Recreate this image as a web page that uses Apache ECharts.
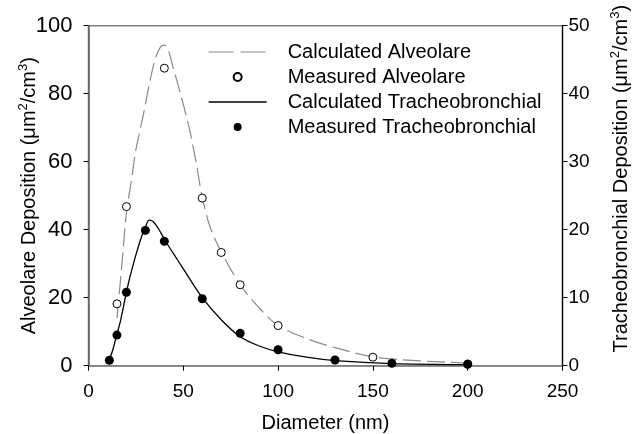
<!DOCTYPE html>
<html>
<head>
<meta charset="utf-8">
<script src="https://cdn.jsdelivr.net/npm/echarts@6/dist/echarts.min.js"></script>
<style>
html,body{margin:0;padding:0;background:#fff;}
#chart{width:638px;height:434px;}
</style>
</head>
<body>
<div id="chart"></div>
<script>
// Calculated alveolar deposition (left axis, µm²/cm³)
const calcAlvX = [15, 17.5, 20, 22.5, 25, 29, 32.5, 35.5, 38, 40, 42, 44, 49, 53.5, 57, 60, 64, 70, 80, 90, 100, 115, 130, 150, 175, 200];
const calcAlvY = [14, 29, 45, 54, 63.5, 74, 84, 90.8, 93.8, 94.3, 93, 89, 79, 69, 59, 49.5, 41, 33.5, 23.8, 17, 11.8, 8, 5.3, 2.6, 1.4, 0.8];
// Measured alveolar deposition (left axis)
const measAlvX = [15, 20, 40, 60, 70, 80, 100, 150, 200];
const measAlvY = [18.2, 46.8, 87.5, 49.3, 33.3, 23.8, 11.8, 2.5, 0.5];
// Calculated tracheobronchial deposition (right axis)
const calcTbX = [11, 13, 15, 17, 20, 22, 25, 28, 30, 32, 34, 37, 40, 45, 50, 60, 70, 80, 90, 100, 115, 130, 160, 200];
const calcTbY = [0.85, 2.5, 4.65, 6.75, 10.8, 13.2, 16.3, 19.0, 20.4, 21.4, 21.2, 20.1, 18.6, 16.4, 14.25, 10, 6.75, 4.25, 2.9, 2.05, 1.25, 0.75, 0.3, 0.15];
// Measured tracheobronchial deposition (right axis)
const measTbX = [11, 15, 20, 30, 40, 60, 80, 100, 130, 160, 200];
const measTbY = [0.8, 4.5, 10.8, 19.9, 18.3, 9.85, 4.76, 2.35, 0.84, 0.35, 0.2];

const seriesNames = ['Calculated Alveolare', 'Measured Alveolare', 'Calculated Tracheobronchial', 'Measured Tracheobronchial'];
const xTicks = {min: 0, max: 250, interval: 50};
const yLeftTicks = {min: 0, max: 100, interval: 20};
const yRightTicks = {min: 0, max: 50, interval: 10};

const zip = (xs, ys) => xs.map((x, i) => [x, ys[i]]);
const FONT = 'Liberation Sans, Arial, sans-serif';

const chart = echarts.init(document.getElementById('chart'), null, {renderer: 'canvas'});
chart.setOption({
  animation: false,
  backgroundColor: '#fff',
  textStyle: {fontFamily: FONT, color: '#000'},
  grid: {left: 88.5, right: 75.5, top: 25.7, bottom: 68.3, containLabel: false, outerBoundsMode: 'none',
         show: true, borderColor: '#808080', borderWidth: 1.5, backgroundColor: 'transparent'},
  legend: {
    orient: 'vertical', left: 203, top: 37, itemWidth: 58, itemHeight: 8, itemGap: 5,
    data: [
      {name: seriesNames[0], itemStyle: {opacity: 0}, lineStyle: {type: [25, 7], width: 1.2, color: '#8a8a8a'}},
      {name: seriesNames[1]},
      {name: seriesNames[2], itemStyle: {opacity: 0}, lineStyle: {width: 1.3, color: '#000'}},
      {name: seriesNames[3]}
    ],
    textStyle: {fontFamily: FONT, fontSize: 20, color: '#000', lineHeight: 20, padding: [0, 0, 0, 16]}
  },
  xAxis: {
    type: 'value', min: xTicks.min, max: xTicks.max, interval: xTicks.interval,
    name: 'Diameter (nm)', nameLocation: 'middle', nameGap: 48, nameMoveOverlap: false,
    nameTextStyle: {fontFamily: FONT, fontSize: 20, color: '#000'},
    axisLine: {show: true, onZero: false, lineStyle: {color: '#808080', width: 1.5}},
    axisTick: {show: true, length: 5, lineStyle: {color: '#000', width: 1}},
    axisLabel: {fontFamily: FONT, fontSize: 19, color: '#000', margin: 17},
    splitLine: {show: false}
  },
  yAxis: [
    {
      type: 'value', position: 'left', min: yLeftTicks.min, max: yLeftTicks.max, interval: yLeftTicks.interval,
      name: '{t|Alveolare Deposition (μm}{s|2}{t|/cm}{s|3}{t|)}', nameLocation: 'middle', nameGap: 46, nameRotate: 90,
      nameMoveOverlap: false,
      nameTextStyle: {fontFamily: FONT, color: '#000', rich: {
        t: {fontFamily: FONT, fontSize: 20, lineHeight: 26, color: '#000'},
        s: {fontFamily: FONT, fontSize: 13, lineHeight: 13, verticalAlign: 'top', color: '#000'}
      }},
      axisLine: {show: true, onZero: false, lineStyle: {color: '#606060', width: 1.5}},
      axisTick: {show: true, length: 5, lineStyle: {color: '#000', width: 1}},
      axisLabel: {fontFamily: FONT, fontSize: 22, color: '#000', margin: 16},
      splitLine: {show: false}
    },
    {
      type: 'value', position: 'right', min: yRightTicks.min, max: yRightTicks.max, interval: yRightTicks.interval,
      name: '{t|Tracheobronchial Deposition (μm}{s|2}{t|/cm}{s|3}{t|)}', nameLocation: 'middle', nameGap: 46, nameRotate: 90,
      nameMoveOverlap: false,
      nameTextStyle: {fontFamily: FONT, color: '#000', padding: [0, 0, 0, 34], rich: {
        t: {fontFamily: FONT, fontSize: 20, lineHeight: 26, color: '#000'},
        s: {fontFamily: FONT, fontSize: 13, lineHeight: 13, verticalAlign: 'top', color: '#000'}
      }},
      axisLine: {show: true, onZero: false, lineStyle: {color: '#000', width: 1.2}},
      axisTick: {show: true, length: 5, lineStyle: {color: '#000', width: 1}},
      axisLabel: {fontFamily: FONT, fontSize: 19, color: '#000', margin: 6},
      splitLine: {show: false}
    }
  ],
  series: [
    {
      name: seriesNames[0], type: 'line', yAxisIndex: 0, data: zip(calcAlvX, calcAlvY),
      smooth: 0.3, showSymbol: false, symbol: 'none',
      lineStyle: {color: '#8a8a8a', width: 1.2, type: [18, 6]},
      itemStyle: {color: '#8a8a8a'}, z: 2
    },
    {
      name: seriesNames[1], type: 'scatter', yAxisIndex: 0, data: zip(measAlvX, measAlvY),
      symbol: 'circle', symbolSize: 8,
      itemStyle: {color: '#fff', borderColor: '#000', borderWidth: 1, opacity: 1}, z: 3
    },
    {
      name: seriesNames[2], type: 'line', yAxisIndex: 1, data: zip(calcTbX, calcTbY),
      smooth: 0.3, showSymbol: false, symbol: 'none',
      lineStyle: {color: '#000', width: 1.3, type: 'solid'},
      itemStyle: {color: '#000'}, z: 4
    },
    {
      name: seriesNames[3], type: 'scatter', yAxisIndex: 1, data: zip(measTbX, measTbY),
      symbol: 'circle', symbolSize: 9,
      itemStyle: {color: '#000', borderColor: '#000', borderWidth: 0, opacity: 1}, z: 5
    }
  ]
});
</script>
</body>
</html>
